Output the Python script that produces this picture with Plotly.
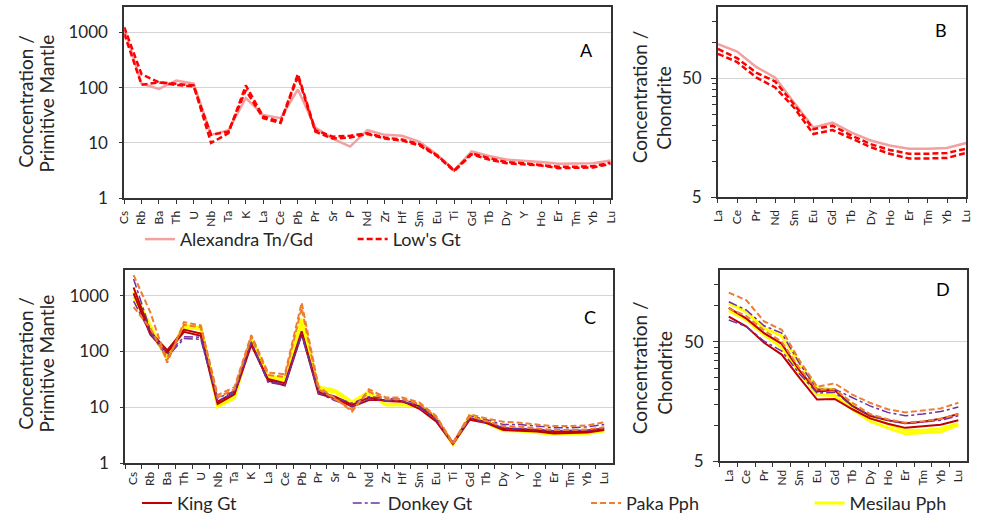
import plotly.graph_objects as go
import math

W, H = 982, 531

# ---------------- categories ----------------
pm_elements = ["Cs","Rb","Ba","Th","U","Nb","Ta","K","La","Ce","Pb","Pr","Sr","P","Nd",
               "Zr","Hf","Sm","Eu","Ti","Gd","Tb","Dy","Y","Ho","Er","Tm","Yb","Lu"]
ree_elements = ["La","Ce","Pr","Nd","Sm","Eu","Gd","Tb","Dy","Ho","Er","Tm","Yb","Lu"]

# ---------------- panel A (primitive mantle) ----------------
alex_pm = [1200, 118, 95, 135, 118, 14, 17, 65, 32, 28, 93, 19, 12, 8.6, 17, 14, 13.5, 10.5,
           6.2, 3.2, 7.0, 5.8, 5.0, 4.8, 4.5, 4.2, 4.2, 4.3, 4.8]
lows_pm_1 = [1250, 175, 125, 118, 110, 10, 15, 110, 30, 24, 176, 17, 13, 13.5, 15, 12.5, 11.5,
             9.5, 6.0, 3.2, 6.5, 5.3, 4.5, 4.3, 4.0, 3.7, 3.7, 3.8, 4.4]
lows_pm_2 = [950, 113, 125, 112, 105, 14, 16, 90, 28, 23, 160, 16, 12, 12.5, 14.5, 12, 11, 9,
             5.8, 3.1, 6.2, 5.0, 4.3, 4.1, 3.9, 3.5, 3.5, 3.6, 4.2]

# ---------------- panel B (chondrite) ----------------
alex_ree = [97, 84, 62.5, 50.7, 31, 19.3, 21.2, 17.5, 15, 13.6, 12.8, 12.8, 13, 14.3]
lows_ree_1 = [88.5, 74, 56, 47, 30, 18.7, 20, 16.5, 14, 12.5, 11.6, 11.6, 11.8, 12.8]
lows_ree_2 = [80.5, 68.7, 51, 41.9, 28.2, 17, 18.4, 15.5, 13.2, 11.6, 10.6, 10.6, 10.7, 11.8]

# ---------------- panel C (primitive mantle) ----------------
king_pm_1 = [1400, 225, 105, 246, 209, 12.6, 18.4, 140, 30, 24.6, 209, 17.6, 14.4, 10.3, 13.5,
             13.5, 12.9, 9.4, 5.6, 2.2, 6.0, 5.2, 3.9, 3.8, 3.7, 3.4, 3.45, 3.55, 3.9]
king_pm_2 = [1100, 200, 95, 225, 190, 11.5, 17, 130, 32, 27, 230, 19, 15.5, 11, 15, 13, 12.5,
             10.5, 6.2, 2.3, 6.4, 5.4, 4.2, 4.1, 3.9, 3.6, 3.65, 3.75, 4.2]
donkey_pm_1 = [1990, 240, 88, 183, 180, 14.6, 19.6, 150, 29, 26, 195, 20, 15, 11.8, 15.5, 14.4,
               14, 11, 6.5, 2.3, 7.0, 6.0, 4.9, 4.9, 4.6, 4.3, 4.3, 4.45, 4.9]
donkey_pm_2 = [800, 210, 80, 170, 165, 13, 18, 140, 28, 25, 210, 18, 13, 10.5, 14, 13, 13, 10,
               6.0, 2.2, 6.3, 5.3, 4.3, 4.2, 4.0, 3.8, 3.8, 3.9, 4.2]
paka_pm_1 = [2335, 500, 63, 335, 292, 16.5, 23, 196, 42, 39, 750, 23.5, 14.4, 8.4, 21, 15, 15,
             12.2, 7.0, 2.3, 7.5, 6.3, 5.5, 5.3, 4.9, 4.6, 4.6, 4.75, 5.4]
paka_pm_2 = [625, 260, 70, 300, 270, 15, 21, 180, 38, 35, 600, 21, 14, 9, 19, 14, 14, 11.5,
             6.6, 2.2, 6.9, 5.7, 4.6, 4.5, 4.2, 3.9, 3.9, 4.0, 4.4]
mesilau_pm_1 = [1180, 290, 77, 292, 269, 10.7, 15.4, 178, 37, 32, 383, 23, 20, 12.6, 19, 11.3,
                11.3, 11, 6.4, 2.2, 7.1, 5.5, 4.0, 3.95, 3.8, 3.5, 3.5, 3.6, 4.0]
mesilau_pm_2 = [950, 260, 72, 275, 250, 10.2, 14.5, 165, 34, 30, 313, 21, 18.5, 12, 17.5, 11,
                11, 10.5, 6.1, 2.15, 6.6, 5.2, 3.8, 3.75, 3.55, 3.3, 3.3, 3.4, 3.75]

# ---------------- panel D (chondrite) ----------------
king_ree_1 = [81, 67, 49, 39, 25, 16.4, 16.6, 13.6, 11.4, 10.3, 9.5, 9.75, 10.1, 11]
king_ree_2 = [96, 78, 59, 48, 28.8, 19.2, 19.6, 14.5, 12, 11, 10.4, 10.7, 11.3, 12.4]
donkey_ree_1 = [108, 92, 68, 59, 33, 20, 20, 17, 14.5, 12.8, 12, 12.4, 13, 14.2]
donkey_ree_2 = [76, 67, 50.5, 41.8, 27, 18.6, 18.8, 14.5, 12, 11, 10.3, 10.6, 11, 12]
paka_ree_1 = [129, 111, 74, 63, 35, 21, 22.4, 18, 15.4, 13.6, 12.8, 13.2, 13.8, 15.4]
paka_ree_2 = [95, 82, 62, 50, 30, 19.8, 20, 15.4, 12.4, 11.2, 10.5, 10.8, 11.3, 12.4]
mesilau_ree_1 = [105, 89, 65, 56, 33, 20.7, 19.8, 14.5, 11.6, 10.3, 9.05, 9.05, 9.35, 10.3]
mesilau_ree_2 = [91, 76, 57, 44.7, 28, 18, 17.7, 13.6, 10.8, 9.5, 8.5, 8.6, 8.8, 10]

# ---------------- styles ----------------
PINK = "#F2A0A0"
RED = "#FF0000"
KING = "#C00000"
DONKEY = "#7030A0"
PAKA = "#ED7D31"
MESILAU = "#FFFF00"
FONT = "Lato"
TXT = "#262626"
AX = "#333333"

fig = go.Figure()

def add(x, y, xa, ya, color, width, dash, name, legend, show):
    fig.add_trace(go.Scatter(
        x=x, y=y, xaxis=xa, yaxis=ya, mode="lines", name=name,
        line=dict(color=color, width=width, dash=dash),
        legend=legend, showlegend=show, hoverinfo="skip"))

# panel A
add(pm_elements, alex_pm, "x", "y", PINK, 2.5, "solid", "Alexandra Tn/Gd", "legend", True)
add(pm_elements, lows_pm_1, "x", "y", RED, 2.5, "6px,3px", "Low's Gt", "legend2", True)
add(pm_elements, lows_pm_2, "x", "y", RED, 2.5, "6px,3px", "Low's Gt", "legend2", False)
# panel B
add(ree_elements, alex_ree, "x2", "y2", PINK, 2.5, "solid", "Alexandra Tn/Gd", "legend", False)
add(ree_elements, lows_ree_1, "x2", "y2", RED, 2.5, "6px,3px", "Low's Gt", "legend2", False)
add(ree_elements, lows_ree_2, "x2", "y2", RED, 2.5, "6px,3px", "Low's Gt", "legend2", False)
# panel C
add(pm_elements, mesilau_pm_1, "x3", "y3", MESILAU, 3, "solid", "Mesilau Pph", "legend6", True)
add(pm_elements, mesilau_pm_2, "x3", "y3", MESILAU, 3, "solid", "Mesilau Pph", "legend6", False)
add(pm_elements, king_pm_1, "x3", "y3", KING, 2, "solid", "King Gt", "legend3", True)
add(pm_elements, king_pm_2, "x3", "y3", KING, 2, "solid", "King Gt", "legend3", False)
add(pm_elements, donkey_pm_1, "x3", "y3", DONKEY, 1.5, "dashdot", "Donkey Gt", "legend4", True)
add(pm_elements, donkey_pm_2, "x3", "y3", DONKEY, 1.5, "dashdot", "Donkey Gt", "legend4", False)
add(pm_elements, paka_pm_1, "x3", "y3", PAKA, 2, "6px,3px", "Paka Pph", "legend5", True)
add(pm_elements, paka_pm_2, "x3", "y3", PAKA, 2, "6px,3px", "Paka Pph", "legend5", False)
# panel D
add(ree_elements, mesilau_ree_1, "x4", "y4", MESILAU, 3, "solid", "Mesilau Pph", "legend6", False)
add(ree_elements, mesilau_ree_2, "x4", "y4", MESILAU, 3, "solid", "Mesilau Pph", "legend6", False)
add(ree_elements, king_ree_1, "x4", "y4", KING, 2, "solid", "King Gt", "legend3", False)
add(ree_elements, king_ree_2, "x4", "y4", KING, 2, "solid", "King Gt", "legend3", False)
add(ree_elements, donkey_ree_1, "x4", "y4", DONKEY, 1.5, "dashdot", "Donkey Gt", "legend4", False)
add(ree_elements, donkey_ree_2, "x4", "y4", DONKEY, 1.5, "dashdot", "Donkey Gt", "legend4", False)
add(ree_elements, paka_ree_1, "x4", "y4", PAKA, 2, "6px,3px", "Paka Pph", "legend5", False)
add(ree_elements, paka_ree_2, "x4", "y4", PAKA, 2, "6px,3px", "Paka Pph", "legend5", False)

def px_x(a, b):
    return [a / W, b / W]

def px_y(top, bottom):
    return [1 - bottom / H, 1 - top / H]

def xaxis(dom, cats, between, anchor):
    n = len(cats)
    return dict(
        domain=dom, anchor=anchor, type="category", categoryorder="array", categoryarray=cats,
        range=[-0.5, n - 0.5] if between else [0, n - 1],
        tickson="boundaries" if between else "labels",
        showline=True, linecolor=AX, linewidth=1.8, mirror=True,
        ticks="outside", ticklen=4, tickcolor=AX, tickwidth=1,
        tickangle=-90, showgrid=False, zeroline=False, ticklabelstandoff=2,
        tickfont=dict(family=FONT, size=12, color=TXT), fixedrange=True)

def yaxis_pm(dom, anchor):
    return dict(
        domain=dom, anchor=anchor, type="log", range=[0, math.log10(2900)],
        tickvals=[1, 10, 100, 1000], ticktext=["1", "10", "100", "1000"],
        showline=True, linecolor=AX, linewidth=1.8, mirror=True,
        ticks="outside", ticklen=3, tickcolor=AX, ticklabelstandoff=8,
        showgrid=True, gridcolor="#D4D4D4", gridwidth=1, zeroline=False,
        tickfont=dict(family=FONT, size=17, color=TXT), fixedrange=True)

def yaxis_ree(dom, anchor):
    return dict(
        domain=dom, anchor=anchor, type="log", range=[math.log10(5), math.log10(200)],
        tickvals=[5, 50], ticktext=["5", "50"],
        showline=True, linecolor=AX, linewidth=1.8, mirror=True,
        ticks="outside", ticklen=5, tickcolor=AX, ticklabelstandoff=6,
        minor=dict(tickvals=[10, 15, 20, 25, 30, 35, 40, 45, 100, 150], ticks="outside",
                   ticklen=4, tickcolor=AX, showgrid=False),
        showgrid=True, gridcolor="#D4D4D4", gridwidth=1, zeroline=False,
        tickfont=dict(family=FONT, size=17, color=TXT), fixedrange=True)

fig.update_layout(
    width=W, height=H, margin=dict(l=0, r=0, t=0, b=0),
    paper_bgcolor="white", plot_bgcolor="white",
    xaxis=xaxis(px_x(118, 612), pm_elements, False, "y"),
    yaxis=yaxis_pm(px_y(7, 202), "x"),
    xaxis2=xaxis(px_x(721, 973), ree_elements, False, "y2"),
    yaxis2=yaxis_ree(px_y(7, 201), "x2"),
    xaxis3=xaxis(px_x(119, 614), pm_elements, True, "y3"),
    yaxis3=yaxis_pm(px_y(275, 472), "x3"),
    xaxis4=xaxis(px_x(723, 974), ree_elements, True, "y4"),
    yaxis4=yaxis_ree(px_y(275, 470), "x4"),
)

def leg(xpx, ypx):
    return dict(x=xpx / W, y=1 - ypx / H, xanchor="left", yanchor="middle",
                orientation="h", bgcolor="rgba(0,0,0,0)", borderwidth=0,
                font=dict(family=FONT, size=18, color=TXT), itemwidth=30)

fig.update_layout(
    legend=leg(134, 244), legend2=leg(350, 244),
    legend3=leg(131, 513), legend4=leg(345, 513),
    legend5=leg(587, 513), legend6=leg(814, 513),
)

annots = []
for txt, xp, yp in [("A", 587.5, 51), ("B", 947.5, 31), ("C", 591, 323.5), ("D", 949, 294.5)]:
    annots.append(dict(text=txt, x=xp / W, y=1 - yp / H, xref="paper", yref="paper",
                       showarrow=False, xanchor="center", yanchor="middle",
                       font=dict(family=FONT, size=18, color="black")))
for txt, xp, yp in [("Concentration /", 17, 103), ("Primitive Mantle", 39, 105),
                    ("Concentration /", 641, 99), ("Chondrite", 666, 110),
                    ("Concentration /", 17, 370), ("Primitive Mantle", 39, 370),
                    ("Concentration /", 642, 375), ("Chondrite", 667, 380)]:
    annots.append(dict(text=txt, x=xp / W, y=1 - yp / H, xref="paper", yref="paper",
                       showarrow=False, xanchor="center", yanchor="middle", textangle=-90,
                       font=dict(family=FONT, size=19, color=TXT)))
fig.update_layout(annotations=annots)

fig.write_html("out.html")
